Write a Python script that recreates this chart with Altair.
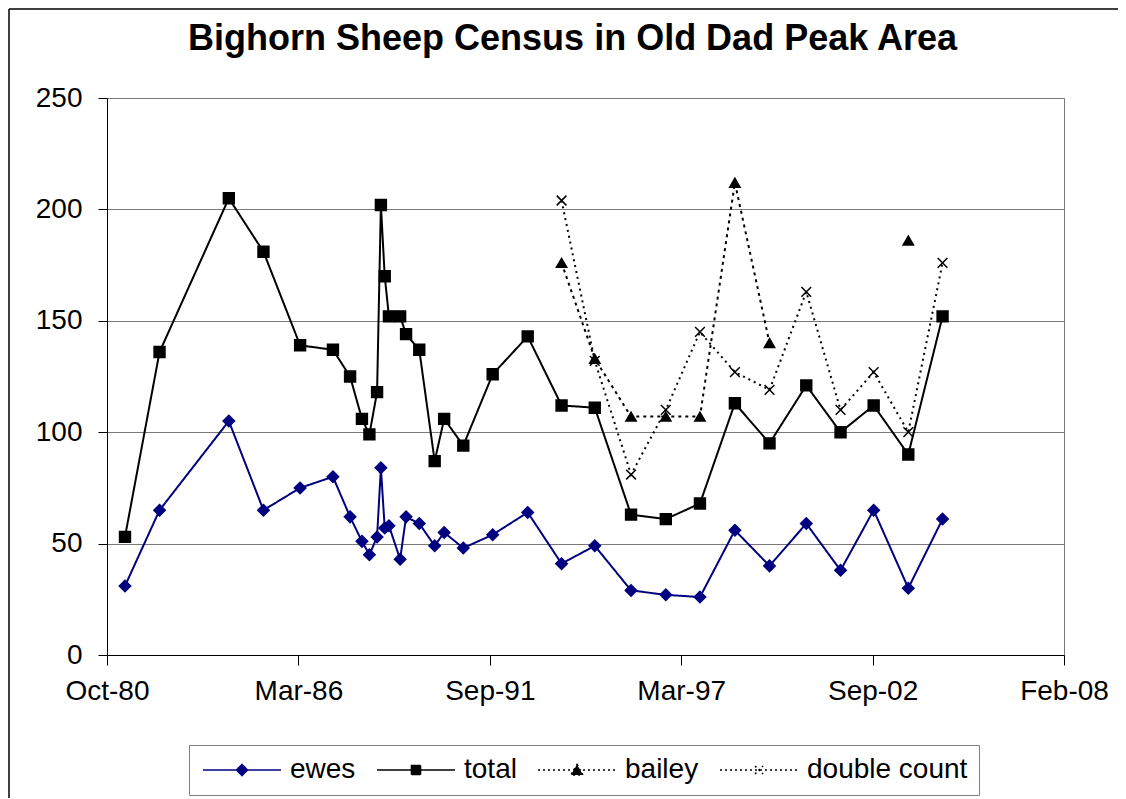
import altair as alt
import pandas as pd

# ---------------- data ----------------
series_names = ["ewes", "total", "bailey", "double count"]

survey_dates = [
    "1981-04-12", "1982-04-08", "1984-04-01", "1985-03-29", "1986-04-16",
    "1987-03-25", "1987-09-20", "1988-01-22", "1988-04-09", "1988-06-28",
    "1988-08-07", "1988-09-16", "1988-10-30", "1989-02-24", "1989-04-27",
    "1989-09-12", "1990-02-20", "1990-05-30", "1990-12-16", "1991-10-19",
    "1992-10-19", "1993-10-08", "1994-09-20", "1995-10-04", "1996-10-01",
    "1997-09-23", "1998-09-23", "1999-09-20", "2000-10-08", "2001-10-01",
    "2002-09-12", "2003-09-09", "2004-09-01",
]

ewes = [31, 65, 105, 65, 75, 80, 62, 51, 45, 53, 84, 57, 58, 43, 62, 59, 49,
        55, 48, 54, 64, 41, 49, 29, 27, 26, 56, 40, 59, 38, 65, 30, 61]

total = [53, 136, 205, 181, 139, 137, 125, 106, 99, 118, 202, 170, 152, 152,
         144, 137, 87, 106, 94, 126, 143, 112, 111, 63, 61, 68, 113, 95, 121,
         100, 112, 90, 152]

bailey = [None] * 21 + [176, 133, 107, 107, 107, 212, 140, None, None, None,
                        186, None]

double_count = [None] * 21 + [204, 132, 81, 110, 145, 127, 119, 163, 110, 127,
                              100, 176]

y_ticks = [0, 50, 100, 150, 200, 250]

# Excel-style date axis: min 6 Oct 1980, major unit 2000 days
axis_start = pd.Timestamp("1980-10-06")
tick_dates = [axis_start + pd.Timedelta(days=2000 * k) for k in range(6)]
tick_ms = [int(t.value // 10**6) for t in tick_dates]

# ---------------- table ----------------
rows = []
for name, vals in zip(series_names, [ewes, total, bailey, double_count]):
    seg = 0
    for d, v in zip(survey_dates, vals):
        if v is None:
            seg += 1
            continue
        rows.append({"date": d, "series": name, "value": v, "seg": f"{name}-{seg}"})
df = pd.DataFrame(rows)

FONT = "Liberation Sans"

x_scale = alt.Scale(type="utc", domain=[tick_ms[0], tick_ms[-1]])
y_scale = alt.Scale(domain=[0, 250])

x_axis = alt.Axis(values=tick_ms, format="%b-%y", grid=False, tickSize=10,
                  labelPadding=12, labelFontSize=28, labelFont=FONT,
                  labelColor="black", labelAngle=0, labelFlush=False,
                  labelOverlap=False, domainColor="black", tickColor="black",
                  title=None)
y_axis = alt.Axis(values=y_ticks, grid=True, gridColor="#7a7a7a",
                  tickSize=9, labelPadding=16, labelFontSize=28,
                  labelFont=FONT, labelColor="black", domainColor="black",
                  tickColor="black", title=None)

base = alt.Chart(df)

line_colors = ["#000080", "#000000", "#000000", "#000000"]

lines = base.mark_line(strokeWidth=2).encode(
    x=alt.X("date:T", scale=x_scale, axis=x_axis),
    y=alt.Y("value:Q", scale=y_scale, axis=y_axis),
    color=alt.Color("series:N", scale=alt.Scale(domain=series_names, range=line_colors), legend=None),
    strokeDash=alt.StrokeDash("series:N", scale=alt.Scale(domain=series_names,
                              range=[[1, 0], [1, 0], [3, 4], [2, 4]]), legend=None),
    detail="seg:N",
)

X_PATH = "M-1,-1L1,1M-1,1L1,-1"
points = base.mark_point(opacity=1, strokeWidth=1.5).encode(
    x=alt.X("date:T", scale=x_scale),
    y=alt.Y("value:Q", scale=y_scale),
    shape=alt.Shape("series:N", scale=alt.Scale(domain=series_names,
                    range=["diamond", "square", "triangle-up", X_PATH]), legend=None),
    fill=alt.Fill("series:N", scale=alt.Scale(domain=series_names,
                  range=["#000080", "#000000", "#000000", "transparent"]), legend=None),
    stroke=alt.Stroke("series:N", scale=alt.Scale(domain=series_names, range=line_colors), legend=None),
    size=alt.Size("series:N", scale=alt.Scale(domain=series_names, range=[130, 95, 190, 130]), legend=None),
)

legend_paths = [
    "M-1.1,0H6.7M2.8,-0.55L3.35,0L2.8,0.55L2.25,0Z",
    "M-1.1,0H6.7M2.35,-0.45H3.25V0.45H2.35Z",
    "M-1.1,0H6.7M2.8,-0.55L3.4,0.5H2.2Z",
    "M-1.1,0H6.7M2.4,-0.4L3.2,0.4M2.4,0.4L3.2,-0.4",
]
leg = alt.Legend(orient="none", legendX=82, legendY=647, direction="horizontal",
                 columns=4, title=None, symbolSize=400, symbolStrokeWidth=1.6,
                 labelFont=FONT, labelFontSize=28, labelColor="black",
                 labelOffset=62, columnPadding=17, padding=11,
                 strokeColor="#808080", fillColor="white", labelLimit=400)

legend_layer = base.transform_filter("false").mark_point(opacity=1).encode(
    x=alt.X("date:T", scale=x_scale),
    y=alt.Y("value:Q", scale=y_scale),
    shape=alt.Shape("series:N", scale=alt.Scale(domain=series_names, range=legend_paths), legend=leg),
    fill=alt.Fill("series:N", scale=alt.Scale(domain=series_names,
                  range=["#000080", "#000000", "#000000", "transparent"]), legend=leg),
    stroke=alt.Stroke("series:N", scale=alt.Scale(domain=series_names, range=line_colors), legend=leg),
    strokeDash=alt.StrokeDash("series:N", scale=alt.Scale(domain=series_names,
                              range=[[1, 0], [1, 0], [2, 3], [2, 3]]), legend=leg),
)

border_top = alt.Chart(pd.DataFrame({"k": [0]})).mark_rule(color="black", strokeWidth=1.5).encode(
    x=alt.value(-98), x2=alt.value(1200), y=alt.value(-89), y2=alt.value(-89))
border_left = alt.Chart(pd.DataFrame({"k": [0]})).mark_rule(color="black", strokeWidth=1.5).encode(
    x=alt.value(-98), x2=alt.value(-98), y=alt.value(-89), y2=alt.value(900))

chart = alt.layer(lines, points, legend_layer, border_top, border_left).resolve_scale(
    shape="independent", fill="independent", stroke="independent",
    strokeDash="independent", size="independent",
).properties(
    width=957, height=557,
    autosize=alt.AutoSizeParams(type="none"),
    padding={"left": 99, "top": 90, "right": 54, "bottom": 143},
    title=alt.Title("Bighorn Sheep Census in Old Dad Peak Area", font=FONT,
                    fontSize=36, fontWeight="bold", color="black",
                    anchor="middle", frame="group", offset=40, dx=-13, dy=90),
).configure_view(stroke="#7a7a7a", strokeWidth=1)

chart.save("out.html", embed_options={"renderer": "svg", "actions": False})
